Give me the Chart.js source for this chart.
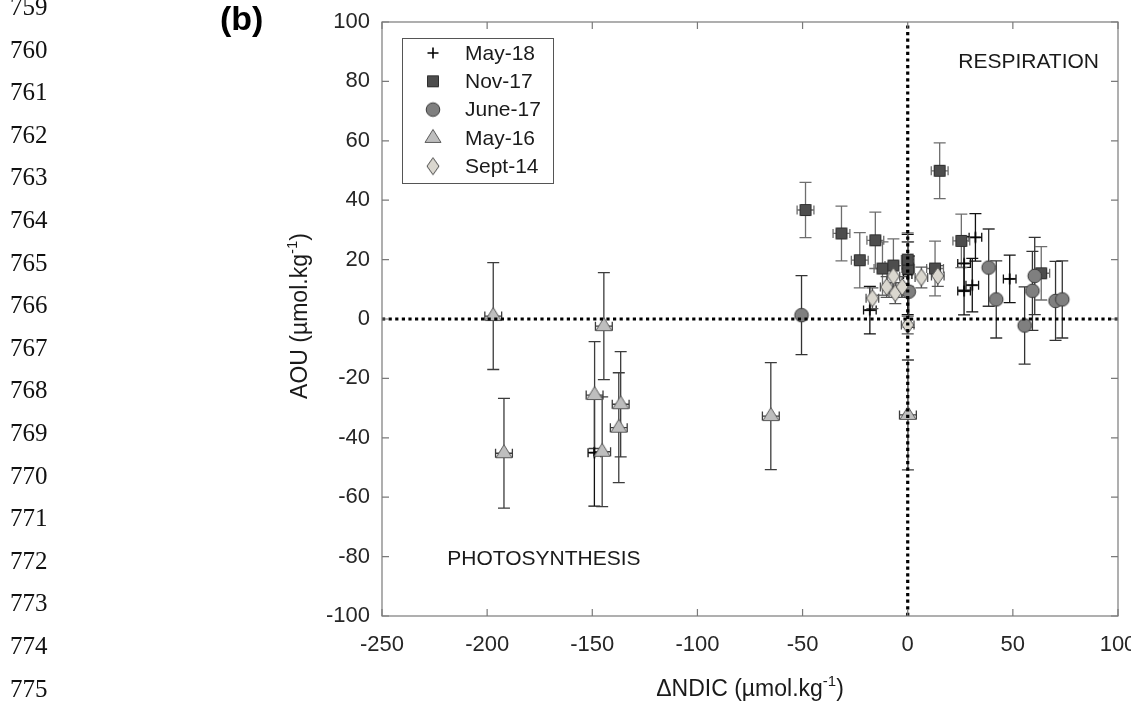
<!DOCTYPE html>
<html>
<head>
<meta charset="utf-8">
<script src="https://cdn.jsdelivr.net/npm/chart.js@4.4.1/dist/chart.umd.min.js"></script>
<style>
    html, body { margin: 0; padding: 0; background: #fff; overflow: hidden; }
    #wrap { position: relative; width: 1131px; height: 703px; }
    #lineNums { position: absolute; left: 0; top: 0; font-family: "Liberation Serif", "Times New Roman", serif; font-size: 25px; line-height: 1; color: #111; }
    #lineNums div { position: absolute; left: 10px; }
</style>
</head>
<body>
<div id="wrap">
    <canvas id="aouChart" width="1131" height="703"></canvas>
    <div id="lineNums"></div>
</div>
<script>
// manuscript line numbers down the left margin
const lineNumbers = [759, 760, 761, 762, 763, 764, 765, 766, 767, 768, 769, 770, 771, 772, 773, 774, 775];

// each point: [ΔNDIC, AOU, ΔNDIC error, AOU error]
const may18 = [
    [32.2, 27.5, 3, 8], [26.8, 18.7, 3, 9], [26.8, 9.4, 3, 8], [30.7, 11.4, 3, 9],
    [48.5, 13.5, 3, 8], [-18, 3, 3, 8], [0, 15, 2, 13.5], [0, 17, 2, 9], [-149, -45, 3, 18]
];
const nov17 = [
    [-48.6, 36.7, 4, 9.3], [-31.5, 28.8, 4, 9.2], [-22.8, 19.8, 4, 9.3], [-15.4, 26.5, 4, 9.5],
    [-12, 17, 4, 9], [-6.8, 18, 4, 9], [0.2, 17, 3, 9], [0, 20, 3, 9],
    [13, 17, 4, 9.2], [15.2, 49.9, 4, 9.4], [25.5, 26.3, 4, 9], [63.5, 15.4, 4, 9]
];
const june17 = [
    [-50.5, 1.3, 0, 13.3], [38.5, 17.3, 0, 13], [42.1, 6.6, 0, 13], [55.6, -2.2, 0, 13],
    [59.3, 9.5, 0, 13.3], [60.4, 14.5, 0, 13], [70.3, 6.1, 0, 13.3], [73.5, 6.6, 0, 13], [0.5, 9.2, 0, 12]
];
const may16 = [
    [-197.1, 1, 4, 18], [-192, -45.2, 4, 18.5], [-144.5, -2.4, 4, 18], [-148.9, -25.6, 4, 18],
    [-145.3, -44.7, 4, 18.5], [-136.5, -28.7, 4, 17.7], [-137.4, -36.6, 4, 18.5],
    [-65.1, -32.7, 4, 18], [0.1, -32.3, 4, 18.5]
];
const sept14 = [
    [-16.8, 7, 3, 3.5], [-10, 10.8, 3, 3.5], [-6.8, 14.4, 3, 3.5], [-5.9, 8.7, 3, 3.5],
    [-2.6, 10.8, 3, 3.5], [6.5, 14, 3, 3.5], [14.3, 14.5, 3, 3.5], [0, -2, 3, 3]
];

// dotted zero lines
const zeroH = [{ x: -250, y: 0 }, { x: 100, y: 0 }];
const zeroV = [{ x: 0, y: -100 }, { x: 0, y: 100 }];

const FONT = '"Liberation Sans", Arial, sans-serif';

// little marker bitmaps, used by the datasets and the legend
function makeMarker(kind) {
    const c = document.createElement('canvas');
    c.width = 22; c.height = 22;
    const g = c.getContext('2d');
    g.translate(11, 11);
    g.lineWidth = 1;
    g.beginPath();
    if (kind === 'square') {
        g.rect(-5.5, -5.5, 11, 11);
        g.fillStyle = '#4d4d4d'; g.strokeStyle = '#2e2e2e';
    } else if (kind === 'circle') {
        g.arc(0, 0, 6.8, 0, Math.PI * 2);
        g.fillStyle = '#7f7f7f'; g.strokeStyle = '#383838';
    } else if (kind === 'triangle') {
        g.moveTo(0, -8.5); g.lineTo(8, 4.5); g.lineTo(-8, 4.5); g.closePath();
        g.fillStyle = '#bebebe'; g.strokeStyle = '#5a5a5a';
    } else if (kind === 'diamond') {
        g.moveTo(0, -8.5); g.lineTo(6, 0); g.lineTo(0, 8.5); g.lineTo(-6, 0); g.closePath();
        g.fillStyle = '#dad7cf'; g.strokeStyle = '#4a4a4a';
    } else {
        g.moveTo(-5.5, 0); g.lineTo(5.5, 0); g.moveTo(0, -5.5); g.lineTo(0, 5.5);
        g.lineWidth = 1.6; g.strokeStyle = '#000';
        g.stroke();
        return c;
    }
    g.fill();
    g.stroke();
    return c;
}

const series = [
    { label: 'May-18', pts: may18, marker: makeMarker('cross'), errColor: '#111' },
    { label: 'Nov-17', pts: nov17, marker: makeMarker('square'), errColor: '#6e6e6e' },
    { label: 'June-17', pts: june17, marker: makeMarker('circle'), errColor: '#333' },
    { label: 'May-16', pts: may16, marker: makeMarker('triangle'), errColor: '#3c3c3c' },
    { label: 'Sept-14', pts: sept14, marker: makeMarker('diamond'), errColor: '#555' },
];

// line numbers
const numBox = document.getElementById('lineNums');
lineNumbers.forEach((n, i) => {
    const d = document.createElement('div');
    d.textContent = n;
    d.style.top = (7 + i * 42.6 - 13) + 'px';
    numBox.appendChild(d);
});

const errorBars = {
    id: 'errorBars',
    beforeDatasetsDraw(chart) {
        const { ctx, scales: { x: xs, y: ys } } = chart;
        ctx.save();
        ctx.lineWidth = 1.3;
        chart.data.datasets.forEach(ds => {
            if (!ds.errs) return;
            ctx.strokeStyle = ds.errColor;
            ds.errs.forEach(([px, py, ex, ey]) => {
                const cx = xs.getPixelForValue(px), cy = ys.getPixelForValue(py);
                ctx.beginPath();
                if (ey) {
                    const t = ys.getPixelForValue(py + ey), b = ys.getPixelForValue(py - ey);
                    ctx.moveTo(cx, t); ctx.lineTo(cx, b);
                    ctx.moveTo(cx - 6, t); ctx.lineTo(cx + 6, t);
                    ctx.moveTo(cx - 6, b); ctx.lineTo(cx + 6, b);
                }
                if (ex) {
                    const l = xs.getPixelForValue(px - ex), r = xs.getPixelForValue(px + ex);
                    ctx.moveTo(l, cy); ctx.lineTo(r, cy);
                    ctx.moveTo(l, cy - 4.5); ctx.lineTo(l, cy + 4.5);
                    ctx.moveTo(r, cy - 4.5); ctx.lineTo(r, cy + 4.5);
                }
                ctx.stroke();
            });
        });
        ctx.restore();
    }
};

// text with a "-1" superscript, centred on (0,0) of the current transform
function drawUnitText(ctx, before, sup, after) {
    const main = '23px ' + FONT, small = '15px ' + FONT;
    ctx.font = main;
    const w1 = ctx.measureText(before).width, w3 = ctx.measureText(after).width;
    ctx.font = small;
    const w2 = ctx.measureText(sup).width;
    let x = -(w1 + w2 + w3) / 2;
    ctx.textAlign = 'left';
    ctx.textBaseline = 'alphabetic';
    ctx.font = main; ctx.fillText(before, x, 8); x += w1;
    ctx.font = small; ctx.fillText(sup, x, -2); x += w2;
    ctx.font = main; ctx.fillText(after, x, 8);
}

const frame = {
    id: 'frame',
    afterDraw(chart) {
        const { ctx, chartArea: a, scales: { x: xs, y: ys } } = chart;
        ctx.save();

        // box with inward ticks
        ctx.strokeStyle = '#7a7a7a';
        ctx.lineWidth = 1.2;
        ctx.strokeRect(a.left, a.top, a.right - a.left, a.bottom - a.top);
        ctx.beginPath();
        xs.ticks.forEach(t => {
            const px = xs.getPixelForValue(t.value);
            ctx.moveTo(px, a.bottom); ctx.lineTo(px, a.bottom - 7);
            ctx.moveTo(px, a.top); ctx.lineTo(px, a.top + 7);
        });
        ys.ticks.forEach(t => {
            const py = ys.getPixelForValue(t.value);
            ctx.moveTo(a.left, py); ctx.lineTo(a.left + 7, py);
            ctx.moveTo(a.right, py); ctx.lineTo(a.right - 7, py);
        });
        ctx.stroke();

        // quadrant labels
        ctx.fillStyle = '#1a1a1a';
        ctx.font = '21px ' + FONT;
        ctx.textAlign = 'center';
        ctx.textBaseline = 'middle';
        ctx.fillText('RESPIRATION', xs.getPixelForValue(57.5), ys.getPixelForValue(86.5));
        ctx.fillText('PHOTOSYNTHESIS', xs.getPixelForValue(-173), ys.getPixelForValue(-81));

        // legend
        const lx = a.left + 20, ly = a.top + 16;
        ctx.fillStyle = '#fff';
        ctx.fillRect(lx, ly, 151, 145);
        ctx.strokeStyle = '#555';
        ctx.lineWidth = 1;
        ctx.strokeRect(lx + 0.5, ly + 0.5, 151, 145);
        ctx.fillStyle = '#1a1a1a';
        ctx.textAlign = 'left';
        series.forEach((s, i) => {
            const cy = ly + 15 + i * 28.3;
            ctx.drawImage(s.marker, lx + 31 - 11, cy - 11);
            ctx.fillText(s.label, lx + 63, cy + 1);
        });

        // panel tag
        ctx.font = 'bold 34px ' + FONT;
        ctx.textAlign = 'left';
        ctx.fillStyle = '#000';
        ctx.fillText('(b)', 220, 21);

        // axis titles
        ctx.fillStyle = '#1a1a1a';
        ctx.save();
        ctx.translate(750, 688);
        drawUnitText(ctx, '\u0394NDIC (\u00b5mol.kg', '-1', ')');
        ctx.restore();
        ctx.save();
        ctx.translate(299, 316);
        ctx.rotate(-Math.PI / 2);
        drawUnitText(ctx, 'AOU (\u00b5mol.kg', '-1', ')');
        ctx.restore();

        ctx.restore();
    }
};

const datasets = [
    { type: 'line', data: zeroH, borderColor: '#000', borderWidth: 3.2, borderDash: [3.2, 3.4], pointRadius: 0, order: 0 },
    { type: 'line', data: zeroV, borderColor: '#000', borderWidth: 3.2, borderDash: [3.2, 3.4], pointRadius: 0, order: 0 },
].concat(series.map((s, i) => ({
    label: s.label,
    data: s.pts.map(p => ({ x: p[0], y: p[1] })),
    errs: s.pts,
    errColor: s.errColor,
    pointStyle: s.marker,
    pointRadius: 6,
    order: 5 - i,
})));

const tickFont = { family: FONT, size: 22 };

// keep the plot box fixed: no room kept for half-labels at the ends
function noOverflow(s) {
    s.paddingLeft = 0; s.paddingRight = 0; s.paddingTop = 0; s.paddingBottom = 0;
}

new Chart(document.getElementById('aouChart'), {
    type: 'scatter',
    data: { datasets },
    options: {
        responsive: false,
        animation: false,
        events: [],
        layout: { padding: { left: 0, right: 13, top: 22, bottom: 0 } },
        plugins: { legend: { display: false }, tooltip: { enabled: false } },
        scales: {
            x: {
                type: 'linear', min: -250, max: 100,
                grid: { display: false, drawTicks: false },
                border: { display: false },
                ticks: { stepSize: 50, padding: 16, color: '#262626', font: tickFont, maxRotation: 0, autoSkip: false },
                afterFit: s => { s.height = 87; noOverflow(s); },
            },
            y: {
                type: 'linear', min: -100, max: 100,
                grid: { display: false, drawTicks: false },
                border: { display: false },
                ticks: { stepSize: 20, padding: 12, color: '#262626', font: tickFont, autoSkip: false },
                afterFit: s => { s.width = 382; noOverflow(s); },
            },
        },
    },
    plugins: [errorBars, frame],
});
</script>
</body>
</html>
